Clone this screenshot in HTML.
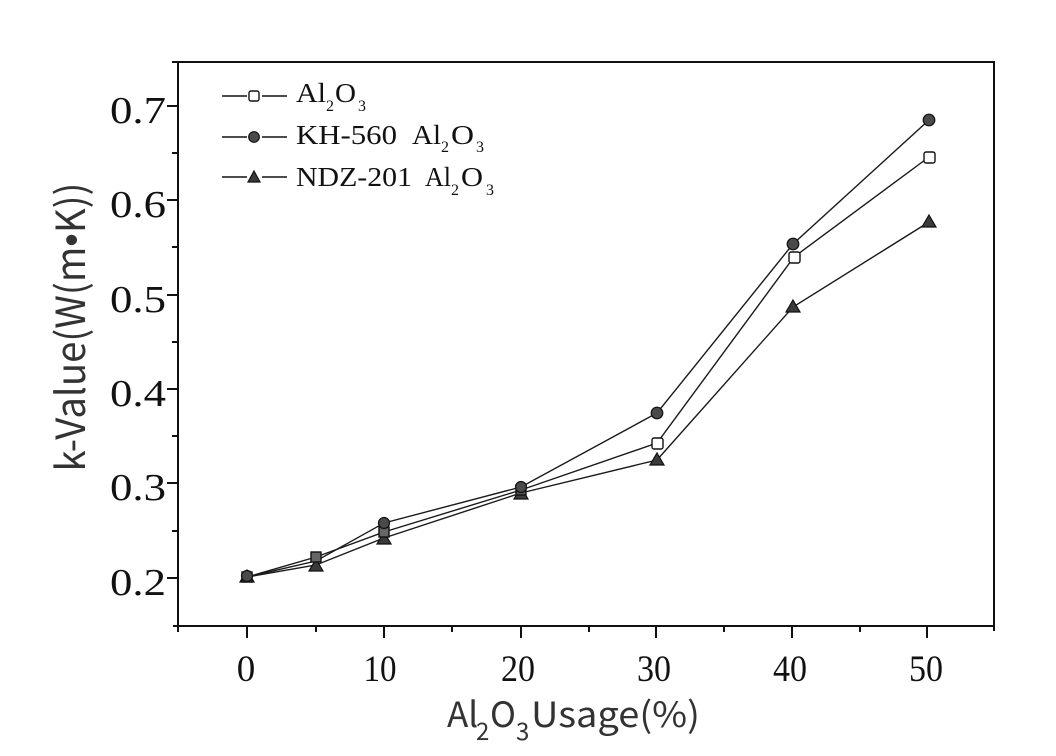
<!DOCTYPE html>
<html>
<head>
<meta charset="utf-8">
<style>
html,body{margin:0;padding:0;background:#fff;}
svg{display:block;}
</style>
</head>
<body>
<svg width="1056" height="756" viewBox="0 0 1056 756" xmlns="http://www.w3.org/2000/svg">
<rect width="1056" height="756" fill="#fff"/>
<!-- frame -->
<g stroke="#111" stroke-width="2" fill="none">
<line x1="172" y1="62" x2="994" y2="62"/>
<line x1="178" y1="61" x2="178" y2="632"/>
<line x1="173" y1="626" x2="994" y2="626"/>
<line x1="994" y1="61" x2="994" y2="631"/>
</g>
<!-- y ticks -->
<g stroke="#111" stroke-width="2">
<line x1="167" y1="106" x2="178" y2="106"/>
<line x1="172" y1="153" x2="178" y2="153"/>
<line x1="167" y1="200" x2="178" y2="200"/>
<line x1="172" y1="247" x2="178" y2="247"/>
<line x1="167" y1="295" x2="178" y2="295"/>
<line x1="172" y1="342" x2="178" y2="342"/>
<line x1="167" y1="389" x2="178" y2="389"/>
<line x1="172" y1="436" x2="178" y2="436"/>
<line x1="167" y1="483" x2="178" y2="483"/>
<line x1="172" y1="531" x2="178" y2="531"/>
<line x1="167" y1="578" x2="178" y2="578"/>
</g>
<!-- x ticks -->
<g stroke="#111" stroke-width="2">
<line x1="247" y1="626" x2="247" y2="638"/>
<line x1="316" y1="626" x2="316" y2="632"/>
<line x1="384" y1="626" x2="384" y2="638"/>
<line x1="452" y1="626" x2="452" y2="632"/>
<line x1="521" y1="626" x2="521" y2="638"/>
<line x1="589" y1="626" x2="589" y2="632"/>
<line x1="656" y1="626" x2="656" y2="638"/>
<line x1="724" y1="626" x2="724" y2="632"/>
<line x1="792" y1="626" x2="792" y2="638"/>
<line x1="860" y1="626" x2="860" y2="632"/>
<line x1="927" y1="626" x2="927" y2="638"/>
</g>
<!-- y tick labels -->
<g font-family="'Liberation Serif', serif" font-size="38" fill="#111" text-anchor="end">
<text x="166" y="123" textLength="56" lengthAdjust="spacingAndGlyphs">0.7</text>
<text x="166" y="217" textLength="56" lengthAdjust="spacingAndGlyphs">0.6</text>
<text x="166" y="312" textLength="56" lengthAdjust="spacingAndGlyphs">0.5</text>
<text x="166" y="406" textLength="56" lengthAdjust="spacingAndGlyphs">0.4</text>
<text x="166" y="500" textLength="56" lengthAdjust="spacingAndGlyphs">0.3</text>
<text x="166" y="595" textLength="56" lengthAdjust="spacingAndGlyphs">0.2</text>
</g>
<!-- x tick labels -->
<g font-family="'Liberation Serif', serif" font-size="37" fill="#111" text-anchor="middle">
<text x="246" y="681">0</text>
<text x="380" y="681" textLength="33" lengthAdjust="spacingAndGlyphs">10</text>
<text x="518" y="681" textLength="34" lengthAdjust="spacingAndGlyphs">20</text>
<text x="654" y="681" textLength="34" lengthAdjust="spacingAndGlyphs">30</text>
<text x="790" y="681" textLength="34" lengthAdjust="spacingAndGlyphs">40</text>
<text x="926" y="681" textLength="34" lengthAdjust="spacingAndGlyphs">50</text>
</g>
<!-- axis titles -->
<text transform="translate(85,327) rotate(-90)" font-family="'Noto Sans CJK SC', 'Liberation Sans', sans-serif" font-size="40" fill="#333" text-anchor="middle" textLength="289" lengthAdjust="spacingAndGlyphs">k-Value(W(m<tspan font-family="'Liberation Sans', sans-serif">•</tspan>K))</text>
<g font-family="'Noto Sans CJK SC', 'Liberation Sans', sans-serif" fill="#333">
<text x="447" y="727" font-size="35">Al</text>
<text x="476" y="740" font-size="24">2</text>
<text x="490" y="727" font-size="35">O</text>
<text x="516" y="740" font-size="24">3</text>
<text x="531" y="727" font-size="35" textLength="169" lengthAdjust="spacingAndGlyphs">Usage(%)</text>
</g>
<!-- series lines -->
<g fill="none" stroke="#1a1a1a" stroke-width="1.4">
<polyline points="247,577 316,561 384,523 521,487 657,413 793,244 929,120"/>
<polyline points="247,577 316,557 384,532 521,490 657,443 794,257 929,157"/>
<polyline points="247,577 316,565 384,538 521,493 657,460 793,307 929,222"/>
</g>
<!-- triangle markers -->
<g fill="#3a3a3a" stroke="#111" stroke-width="1.2">
<polygon points="247,570 254,582 240,582"/>
<polygon points="316,559 323,571 309,571"/>
<polygon points="384,532 391,544 377,544"/>
<polygon points="521,487 528,499 514,499"/>
<polygon points="657,453 664,465 650,465"/>
<polygon points="793,300 800,312 786,312"/>
<polygon points="929,215 936,227 922,227"/>
</g>
<!-- square markers -->
<g fill="#fff" stroke="#111" stroke-width="1.4">
<rect x="242" y="572" width="10" height="10" fill="#555"/>
<rect x="311" y="552" width="10" height="10" fill="#666"/>
<rect x="379" y="527" width="10" height="10" fill="#666"/>
<rect x="516" y="485" width="10" height="10" fill="#555"/>
<rect x="652" y="438" width="11" height="11" rx="2"/>
<rect x="789" y="252" width="11" height="11" rx="2"/>
<rect x="924" y="152" width="11" height="11" rx="2"/>
</g>
<!-- circle markers -->
<g fill="#4a4a4a" stroke="#111" stroke-width="1.2">
<circle cx="247" cy="576" r="5.5"/>
<circle cx="384" cy="523" r="5.5"/>
<circle cx="521" cy="487" r="5.5"/>
<circle cx="657" cy="413" r="5.8"/>
<circle cx="793" cy="244" r="5.8"/>
<circle cx="929" cy="120" r="5.8"/>
</g>
<!-- legend -->
<g stroke="#111" stroke-width="1.4">
<line x1="222" y1="96" x2="247" y2="96"/>
<line x1="262" y1="96" x2="287" y2="96"/>
<line x1="222" y1="137" x2="247" y2="137"/>
<line x1="262" y1="137" x2="287" y2="137"/>
<line x1="222" y1="177" x2="247" y2="177"/>
<line x1="262" y1="177" x2="287" y2="177"/>
</g>
<rect x="249" y="91" width="10" height="10" rx="2" fill="#fff" stroke="#111" stroke-width="1.4"/>
<circle cx="254" cy="137" r="5.3" fill="#4a4a4a" stroke="#111" stroke-width="1.2"/>
<polygon points="254,171 260,182 248,182" fill="#3a3a3a" stroke="#111" stroke-width="1.2"/>
<g font-family="'Liberation Serif', serif" fill="#111">
<text x="296" y="102" font-size="27" textLength="30" lengthAdjust="spacingAndGlyphs">Al</text>
<text x="326" y="111" font-size="16">2</text>
<text x="335" y="102" font-size="27" textLength="21" lengthAdjust="spacingAndGlyphs">O</text>
<text x="358" y="111" font-size="16">3</text>

<text x="296" y="144" font-size="27" textLength="101" lengthAdjust="spacingAndGlyphs">KH-560</text>
<text x="412" y="144" font-size="27" textLength="29" lengthAdjust="spacingAndGlyphs">Al</text>
<text x="441" y="152" font-size="16">2</text>
<text x="451" y="144" font-size="27" textLength="23" lengthAdjust="spacingAndGlyphs">O</text>
<text x="476" y="152" font-size="16">3</text>

<text x="296" y="186" font-size="27" textLength="116" lengthAdjust="spacingAndGlyphs">NDZ-201</text>
<text x="425" y="186" font-size="27" textLength="26" lengthAdjust="spacingAndGlyphs">Al</text>
<text x="451" y="195" font-size="16">2</text>
<text x="461" y="186" font-size="27" textLength="22" lengthAdjust="spacingAndGlyphs">O</text>
<text x="486" y="195" font-size="16">3</text>
</g>
</svg>
</body>
</html>
